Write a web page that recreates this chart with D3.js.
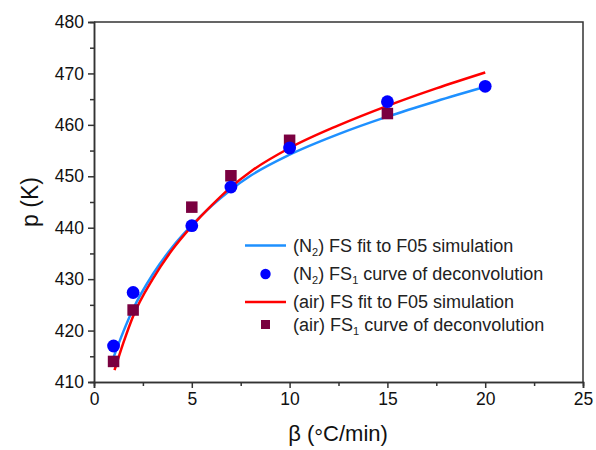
<!DOCTYPE html>
<html>
<head>
<meta charset="utf-8">
<script src="https://cdn.jsdelivr.net/npm/d3@7"></script>
<style>
  html, body { margin: 0; padding: 0; background: #fff; }
  svg { display: block; font-family: "Liberation Sans", Arial, sans-serif; }
</style>
</head>
<body>
<svg id="chart" width="596" height="450"></svg>
<script>
// Heating rate β (°C/min) and peak temperature p (K)
const betaN2 = [1, 2, 5, 7, 10, 15, 20];
const pN2 = [417.0, 427.4, 440.4, 447.9, 455.5, 464.5, 467.5];

const betaAir = [1, 2, 5, 7, 10, 15];
const pAir = [414.0, 424.0, 444.0, 450.1, 457.0, 462.2];

// FS fit curves (F05 simulation)
const fitBetaN2 = [1.0, 1.5, 2, 3, 4, 5, 6, 7, 8, 10, 12.5, 15, 17.5, 20];
const fitPN2 = [414.8, 419.8, 424.2, 430.9, 436.2, 440.5, 444.2, 447.4, 450.1, 454.2, 458.2, 461.6, 464.6, 467.4];

const fitBetaAir = [1.05, 1.5, 2, 3, 4, 5, 6, 7, 8, 10, 12.5, 15, 17.5, 20];
const fitPAir = [412.3, 417.6, 422.8, 430.0, 435.7, 440.3, 444.3, 447.9, 450.9, 455.5, 459.9, 463.7, 467.1, 470.2];

const xMajor = [0, 5, 10, 15, 20, 25];
const xMinor = [2.5, 7.5, 12.5, 17.5, 22.5];
const yMajor = [410, 420, 430, 440, 450, 460, 470, 480];
const yMinor = [415, 425, 435, 445, 455, 465, 475];

const svg = d3.select("#chart");
const plotL = 94, plotR = 583, plotT = 22, plotB = 382;

const x = d3.scaleLinear().domain([0, 25]).range([plotL, plotR]);
const y = d3.scaleLinear().domain([410, 480]).range([plotB, plotT]);

const axisColor = "#333";
const textColor = "#111";

// Frame (top and right edges)
svg.append("path")
  .attr("d", `M${plotL},${plotT}H${plotR}V${plotB}`)
  .attr("fill", "none").attr("stroke", axisColor).attr("stroke-width", 1.5);

function styleAxis(g) {
  g.select(".domain").attr("stroke", axisColor).attr("stroke-width", 1.5);
  g.selectAll(".tick line").attr("stroke", axisColor).attr("stroke-width", 1.5);
  g.selectAll(".tick text").attr("fill", textColor).attr("font-size", 17.5)
    .attr("font-family", "Liberation Sans, Arial, sans-serif");
}

// Bottom axis
const gxMinor = svg.append("g").attr("transform", `translate(0,${plotB})`)
  .call(d3.axisBottom(x).tickValues(xMinor).tickSize(4).tickFormat(""));
styleAxis(gxMinor);
const gx = svg.append("g").attr("transform", `translate(0,${plotB})`)
  .call(d3.axisBottom(x).tickValues(xMajor).tickSize(6).tickPadding(5).tickFormat(d3.format("d")));
styleAxis(gx);

// Left axis
const gyMinor = svg.append("g").attr("transform", `translate(${plotL},0)`)
  .call(d3.axisLeft(y).tickValues(yMinor).tickSize(4).tickFormat(""));
styleAxis(gyMinor);
const gy = svg.append("g").attr("transform", `translate(${plotL},0)`)
  .call(d3.axisLeft(y).tickValues(yMajor).tickSize(6).tickPadding(4).tickFormat(d3.format("d")));
styleAxis(gy);

// Axis titles
const xTitle = svg.append("text")
  .attr("x", 338).attr("y", 441)
  .attr("text-anchor", "middle").attr("font-size", 22).attr("fill", textColor);
xTitle.append("tspan").text("β (");
xTitle.append("tspan").attr("dy", 4).text("°");
xTitle.append("tspan").attr("dy", -4).text("C/min)");

svg.append("text")
  .attr("transform", `translate(38,${(plotT + plotB) / 2}) rotate(-90)`)
  .attr("text-anchor", "middle").attr("font-size", 23).attr("fill", textColor)
  .text("p (K)");

// Fit curves
const line = d3.line().x(d => x(d[0])).y(d => y(d[1])).curve(d3.curveMonotoneX);
const fitN2 = fitBetaN2.map((b, i) => [b, fitPN2[i]]);
const fitAir = fitBetaAir.map((b, i) => [b, fitPAir[i]]);

const blueLine = "#1e90ff", redLine = "#ff0000";
const circleColor = "#0000ff", squareColor = "#7a0040";

svg.append("path").datum(fitN2).attr("d", line)
  .attr("fill", "none").attr("stroke", blueLine).attr("stroke-width", 2.5);
svg.append("path").datum(fitAir).attr("d", line)
  .attr("fill", "none").attr("stroke", redLine).attr("stroke-width", 2.5);

// Data markers
const sq = 11.5;
svg.append("g").selectAll("rect")
  .data(betaAir.map((b, i) => [b, pAir[i]]))
  .join("rect")
  .attr("x", d => x(d[0]) - sq / 2).attr("y", d => y(d[1]) - sq / 2)
  .attr("width", sq).attr("height", sq).attr("fill", squareColor);

svg.append("g").selectAll("circle")
  .data(betaN2.map((b, i) => [b, pN2[i]]))
  .join("circle")
  .attr("cx", d => x(d[0])).attr("cy", d => y(d[1])).attr("r", 6.4)
  .attr("fill", circleColor);

// Legend
const legend = svg.append("g").attr("font-size", 18).attr("fill", "#222");
const rows = [
  { y: 245.5, kind: "line", color: blueLine, pre: "(N", sub: "2", mid: ") FS", sub2: null, post: " fit to F05 simulation" },
  { y: 274, kind: "circle", color: circleColor, pre: "(N", sub: "2", mid: ") FS", sub2: "1", post: " curve of deconvolution" },
  { y: 302, kind: "line", color: redLine, pre: "(air) FS", sub: null, mid: "", sub2: null, post: " fit to F05 simulation" },
  { y: 324.5, kind: "square", color: squareColor, pre: "(air) FS", sub: null, mid: "", sub2: "1", post: " curve of deconvolution" }
];
rows.forEach(r => {
  if (r.kind === "line") {
    legend.append("line").attr("x1", 245).attr("x2", 286).attr("y1", r.y).attr("y2", r.y)
      .attr("stroke", r.color).attr("stroke-width", 2.5);
  } else if (r.kind === "circle") {
    legend.append("circle").attr("cx", 265.5).attr("cy", r.y).attr("r", 5.2).attr("fill", r.color);
  } else {
    legend.append("rect").attr("x", 265.5 - 4.5).attr("y", r.y - 4.5).attr("width", 9).attr("height", 9)
      .attr("fill", r.color);
  }
  const t = legend.append("text").attr("x", 293).attr("y", r.y + 6);
  t.append("tspan").text(r.pre);
  if (r.sub) t.append("tspan").attr("font-size", 11).attr("dy", 4).text(r.sub);
  if (r.sub) t.append("tspan").attr("dy", -4).text(r.mid);
  else if (r.mid) t.append("tspan").text(r.mid);
  if (r.sub2) {
    t.append("tspan").attr("font-size", 11).attr("dy", 4).text(r.sub2);
    t.append("tspan").attr("dy", -4).text(r.post);
  } else {
    t.append("tspan").text(r.post);
  }
});
</script>
</body>
</html>
